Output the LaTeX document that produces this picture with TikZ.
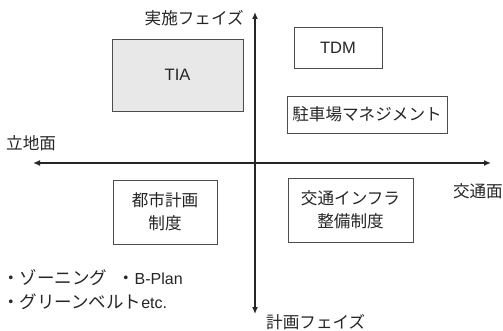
\documentclass[tikz,border=0pt]{standalone}
\usepackage{fontspec}
\setmainfont{Liberation Sans}
\newfontfamily\jp{Noto Sans CJK JP}
\usetikzlibrary{arrows.meta}
\begin{document}
\begin{tikzpicture}[x=1pt,y=-1pt,
  box/.style={draw=black!70, line width=0.9pt, inner sep=0pt, align=center, text=black!85,
    font=\jp\fontsize{16.6}{23}\selectfont},
  latinbox/.style={box, font=\fontsize{16.5}{20}\selectfont},
  axisline/.style={line width=1.8pt, draw=black!85, {Latex[length=7pt,width=6pt]}-{Latex[length=7pt,width=6pt]}},
  lbl/.style={inner sep=0pt, text=black!85, font=\jp\fontsize{16.6}{18}\selectfont},
  note/.style={inner sep=0pt, text=black!85, font=\fontsize{16}{18}\selectfont}]
\useasboundingbox (0,0) rectangle (503,331);
\fill[white] (0,0) rectangle (503,331);
% axes
\coordinate (vtop) at (255,12);
\coordinate (vbot) at (255,314);
\coordinate (hleft) at (33,163);
\coordinate (hright) at (491,163);
\draw[axisline] (vbot) -- (vtop);
\draw[axisline] (hleft) -- (hright);
% boxes
\node[latinbox, fill=black!9, minimum width=131pt, minimum height=72pt] (tia) at (177.5,75) {TIA};
\node[latinbox, minimum width=88pt, minimum height=41pt] (tdm) at (338,47.5) {TDM};
\node[box, minimum width=160pt, minimum height=37pt] (park) at (367,114.5) {駐車場マネジメント};
\node[box, minimum width=104pt, minimum height=64pt] (city) at (165,212) {都市計画\\制度};
\node[box, minimum width=125pt, minimum height=64pt] (infra) at (350.5,210) {交通インフラ\\整備制度};
% axis labels
\node[lbl, anchor=east] (impl) at (244,18) {実施フェイズ};
\node[lbl, anchor=west] (land) at (6,143) {立地面};
\node[lbl, anchor=east] (traf) at (503,191) {交通面};
\node[lbl, anchor=west] (plan) at (266,322) {計画フェイズ};
% notes
\node[note, anchor=west] (n1) at (2,278) {{\jp\fontsize{17.5}{18}\selectfont ・ゾーニング\hspace{10pt}・}B-Plan};
\node[note, anchor=west] (n2) at (2,302) {{\jp\fontsize{17.5}{18}\selectfont ・グリーンベルト}etc.};
\end{tikzpicture}
\end{document}
